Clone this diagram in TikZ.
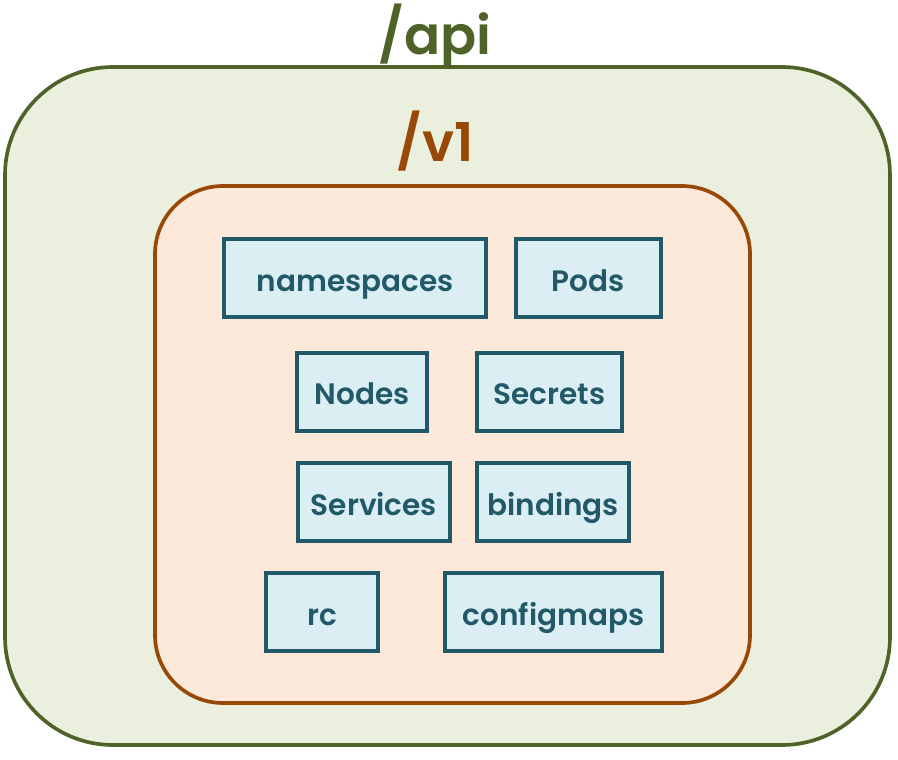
\documentclass[tikz,border=0pt]{standalone}
\usepackage{fontspec}
\setmainfont{Poppins}[BoldFont={Poppins SemiBold}]
\usetikzlibrary{positioning}
\definecolor{apigreen}{HTML}{4F6228}
\definecolor{apifill}{HTML}{EBF0DE}
\definecolor{vbrown}{HTML}{984807}
\definecolor{vfill}{HTML}{FDE9D9}
\definecolor{resteal}{HTML}{215968}
\definecolor{resfill}{HTML}{DBEEF4}
\begin{document}
\begin{tikzpicture}
    [
        group/.style = {draw, shape=rectangle, line width=2.6pt},
        res/.style = {draw=resteal, fill=resfill, text=resteal, shape=rectangle, minimum height=1.95cm, line width=2.8pt, text height=24pt, text depth=5pt, font=\fontsize{21}{24}\selectfont\bfseries},
        path/.style = {anchor=base, font=\fontsize{38}{44}\selectfont\bfseries},
    ]
    \useasboundingbox (0,0) rectangle (22.45,-19);

    \draw[group, draw=apigreen, fill=apifill, rounded corners=2.7cm] (0.125,-1.675) rectangle (22.25,-18.625);
    \draw[group, draw=vbrown, fill=vfill, rounded corners=1.7cm] (3.875,-4.65) rectangle (18.75,-17.575);

    \node[path, text=apigreen] (api) at (10.875,-1.375) {/api};
    \node[path, text=vbrown] (v1) at (10.875,-4.05) {/v1};

    \node[res, minimum width=6.55cm] (namespaces) at (8.875,-6.95)  {namespaces};
    \node[res, minimum width=3.625cm] (pods) at (14.71,-6.95)       {Pods};
    \node[res, minimum width=3.25cm] (nodes) at (9.05,-9.79)        {Nodes};
    \node[res, minimum width=3.625cm] (secrets) at (13.74,-9.79)    {Secrets};
    \node[res, minimum width=3.8cm] (services) at (9.35,-12.56)     {Services};
    \node[res, minimum width=3.8cm] (bindings) at (13.83,-12.56)    {bindings};
    \node[res, minimum width=2.8cm] (rc) at (8.05,-15.3)            {rc};
    \node[res, minimum width=5.425cm] (configmaps) at (13.84,-15.3) {configmaps};
\end{tikzpicture}
\end{document}
